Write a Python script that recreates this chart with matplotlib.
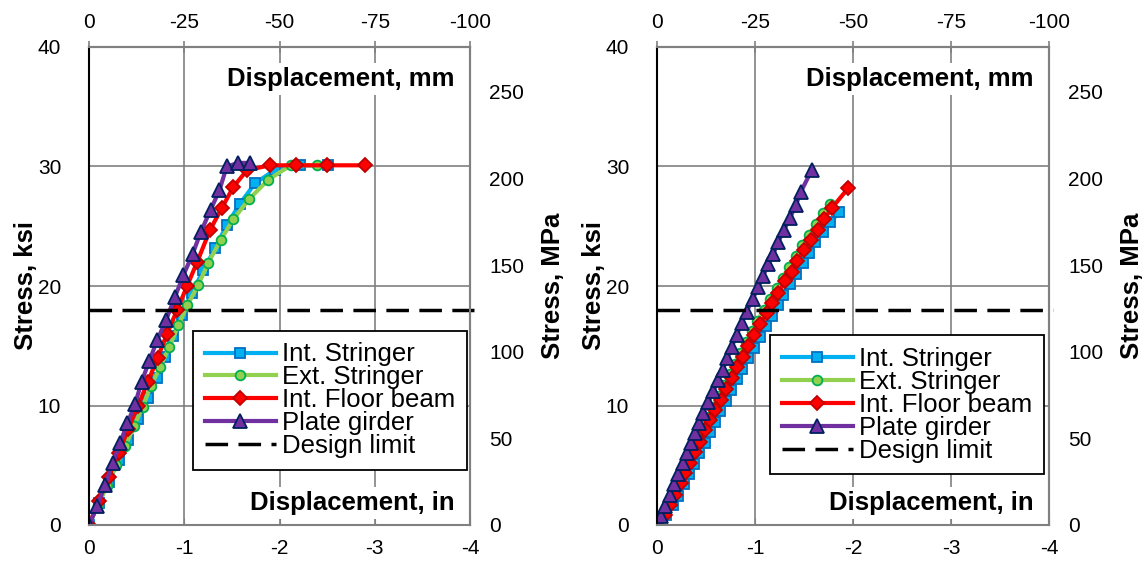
import numpy as np
import matplotlib
matplotlib.use("Agg")
import matplotlib.pyplot as plt

plt.rcParams['font.family'] = ['Liberation Sans', 'DejaVu Sans']
plt.rcParams['axes.unicode_minus'] = False

# ---- left panel: displacement (in) vs stress (ksi) ----
is_l_x = [0, -0.10, -0.205, -0.31, -0.41, -0.515, -0.615, -0.711, -0.798, -0.886, -0.973,
          -1.078, -1.2, -1.324, -1.446, -1.586, -1.744, -1.95, -2.216, -2.514]
is_l_y = [0, 1.8, 3.6, 5.4, 7.1, 8.9, 10.6, 12.3, 14.1, 15.8, 17.6,
          19.4, 21.3, 23.15, 25.1, 26.9, 28.6, 29.7, 30.1, 30.1]

es_l_x = [0, -0.095, -0.19, -0.285, -0.38, -0.475, -0.563, -0.648, -0.746, -0.844, -0.938,
          -1.033, -1.148, -1.253, -1.383, -1.516, -1.684, -1.883, -2.118, -2.398]
es_l_y = [0, 1.7, 3.3, 5.0, 6.6, 8.3, 9.9, 11.6, 13.2, 14.9, 16.7,
          18.4, 20.1, 21.95, 23.85, 25.6, 27.3, 28.9, 30.1, 30.1]

fb_l_x = [0, -0.10, -0.205, -0.31, -0.41, -0.515, -0.62, -0.72, -0.82, -0.925, -1.03,
          -1.135, -1.271, -1.393, -1.516, -1.66, -1.901, -2.174, -2.503, -2.899]
fb_l_y = [0, 2.0, 4.0, 6.0, 8.0, 10.0, 12.0, 14.0, 16.0, 18.0, 20.0,
          22.0, 24.7, 26.5, 28.3, 29.7, 30.1, 30.1, 30.1, 30.1]

pg_l_x = [0, -0.088, -0.168, -0.249, -0.326, -0.403, -0.483, -0.553, -0.634, -0.718,
          -0.809, -0.903, -0.991, -1.089, -1.173, -1.278, -1.369, -1.446, -1.568, -1.691]
pg_l_y = [0, 1.6, 3.35, 5.16, 6.84, 8.5, 10.1, 12.0, 13.75, 15.5,
          17.15, 19.1, 20.9, 22.7, 24.5, 26.4, 28.0, 30.0, 30.3, 30.3]

# ---- right panel ----
is_r_x = [0, -0.09, -0.16, -0.21, -0.275, -0.325, -0.375, -0.43, -0.485, -0.54, -0.59,
          -0.645, -0.705, -0.76, -0.815, -0.87, -0.93, -0.99, -1.05, -1.11, -1.17,
          -1.23, -1.29, -1.355, -1.42, -1.485, -1.55, -1.615, -1.69, -1.77, -1.86]
is_r_y = [0, 0.8, 1.65, 2.45, 3.4, 4.25, 5.1, 6.0, 6.9, 7.8, 8.65,
          9.5, 10.4, 11.3, 12.2, 13.05, 13.95, 14.85, 15.75, 16.65, 17.5,
          18.4, 19.25, 20.15, 21.0, 21.9, 22.75, 23.65, 24.5, 25.35, 26.2]

es_r_x = [0, -0.06, -0.11, -0.165, -0.215, -0.265, -0.315, -0.365, -0.415, -0.465, -0.52,
          -0.575, -0.63, -0.685, -0.74, -0.795, -0.85, -0.91, -0.965, -1.025, -1.09,
          -1.155, -1.22, -1.285, -1.35, -1.415, -1.48, -1.55, -1.62, -1.69, -1.77]
es_r_y = [0, 0.9, 1.8, 2.7, 3.6, 4.5, 5.4, 6.3, 7.2, 8.1, 9.0,
          9.9, 10.8, 11.7, 12.6, 13.5, 14.4, 15.3, 16.2, 17.1, 18.0,
          18.9, 19.8, 20.7, 21.6, 22.5, 23.4, 24.3, 25.2, 26.1, 26.9]

fb_r_x = [0, -0.082, -0.133, -0.184, -0.242, -0.286, -0.337, -0.388, -0.439, -0.49, -0.541,
          -0.592, -0.65, -0.704, -0.762, -0.813, -0.874, -0.932, -0.99, -1.051, -1.119,
          -1.178, -1.238, -1.306, -1.374, -1.432, -1.5, -1.568, -1.64, -1.707, -1.782, -1.952]
fb_r_y = [0, 0.84, 1.67, 2.51, 3.49, 4.33, 5.16, 6.13, 6.97, 7.95, 8.8,
          9.6, 10.5, 11.4, 12.3, 13.2, 14.1, 15.0, 15.9, 16.8, 17.7,
          18.55, 19.4, 20.4, 21.2, 22.1, 23.0, 23.85, 24.7, 25.6, 26.5, 28.2]

pg_r_x = [0, -0.037, -0.082, -0.133, -0.173, -0.218, -0.262, -0.303, -0.347, -0.388, -0.432,
          -0.473, -0.524, -0.575, -0.619, -0.67, -0.718, -0.762, -0.813, -0.864, -0.915,
          -0.975, -1.034, -1.079, -1.136, -1.187, -1.238, -1.296, -1.357, -1.418, -1.469, -1.579]
pg_r_y = [0, 0.75, 1.6, 2.5, 3.4, 4.3, 5.2, 6.05, 6.9, 7.7, 8.55,
          9.4, 10.3, 11.2, 12.1, 13.0, 13.95, 14.9, 15.9, 16.9, 17.85,
          18.9, 19.9, 20.8, 21.8, 22.7, 23.7, 24.7, 25.7, 26.8, 27.9, 29.7]

design_limit = 18.0
labels = ["Int. Stringer", "Ext. Stringer", "Int. Floor beam", "Plate girder"]
styles = [dict(color="#00B0F0", marker="s", mfc="#00B0F0", mec="#0070C0", ms=7),
          dict(color="#92D050", marker="o", mfc="#92D050", mec="#00B050", ms=7),
          dict(color="#FF0000", marker="D", mfc="#FF0000", mec="#C00000", ms=7),
          dict(color="#7030A0", marker="^", mfc="#7030A0", mec="#002060", ms=9.5)]

panels = [
    ([is_l_x, es_l_x, fb_l_x, pg_l_x], [is_l_y, es_l_y, fb_l_y, pg_l_y],
     [89 / 1142, 42 / 567, 381 / 1142, 478 / 567], (0.992, 0.406)),
    ([is_r_x, es_r_x, fb_r_x, pg_r_x], [is_r_y, es_r_y, fb_r_y, pg_r_y],
     [657 / 1142, 42 / 567, 392 / 1142, 478 / 567], (0.987, 0.397)),
]

fig = plt.figure(figsize=(11.42, 5.67), dpi=100)
grey = "#808080"

for xs, ys, rect, leg_anchor in panels:
    ax = fig.add_axes(rect)
    for x, y, lab, st in zip(xs, ys, labels, styles):
        ax.plot(x, y, lw=3, mew=1.3, label=lab, **st)
    ax.axhline(design_limit, color="black", lw=2.5, dashes=(6.5, 3),
               label="Design limit", xmax=1.01, clip_on=False)

    ax.set_xlim(0, -4)
    ax.set_ylim(0, 40)
    ax.set_xticks([0, -1, -2, -3, -4])
    ax.set_yticks([0, 10, 20, 30, 40])
    ax.grid(True, color=grey, lw=1.2)
    ax.set_axisbelow(True)
    ax.tick_params(axis="x", direction="in", length=5, color=grey, labelsize=15, pad=10)
    ax.tick_params(axis="y", length=0, labelsize=15, pad=20)
    for side in ["top", "right", "bottom"]:
        ax.spines[side].set_color(grey)
        ax.spines[side].set_linewidth(1.5)
    ax.spines["left"].set_color("black")
    ax.spines["left"].set_linewidth(1.5)
    ax.set_ylabel("Stress, ksi", fontsize=18.5, fontweight="bold", labelpad=0)

    top = ax.secondary_xaxis("top", functions=(lambda v: v * 25.0, lambda v: v / 25.0))
    top.set_xticks([0, -25, -50, -75, -100])
    top.tick_params(direction="inout", length=9, color=grey, width=1.2, labelsize=15, pad=6)
    top.spines["top"].set_color(grey)
    top.spines["top"].set_linewidth(1.5)

    right = ax.secondary_yaxis("right", functions=(lambda v: v * 6.895, lambda v: v / 6.895))
    right.set_yticks([0, 50, 100, 150, 200, 250])
    right.tick_params(length=0, labelsize=15, pad=14)
    right.spines["right"].set_color(grey)
    right.spines["right"].set_linewidth(1.5)
    right.set_ylabel("Stress, MPa", fontsize=18.5, fontweight="bold", labelpad=12)

    ax.text(0.96, 0.918, "Displacement, mm", transform=ax.transAxes, ha="right",
            va="baseline", fontsize=18.5, fontweight="bold", zorder=5,
            bbox=dict(facecolor="white", edgecolor="none", pad=3))
    ax.text(0.96, 0.031, "Displacement, in", transform=ax.transAxes, ha="right",
            va="baseline", fontsize=18.5, fontweight="bold", zorder=5,
            bbox=dict(facecolor="white", edgecolor="none", pad=3))

    leg = ax.legend(loc="upper right", bbox_to_anchor=leg_anchor, borderaxespad=0,
                    fontsize=18.5, frameon=True, fancybox=False, framealpha=1,
                    edgecolor="black", handlelength=2.75, handletextpad=0.25,
                    labelspacing=-0.04, borderpad=0.45)
    leg.get_frame().set_linewidth(1.3)
    leg.set_zorder(6)

fig.savefig("out.png", dpi=100)
